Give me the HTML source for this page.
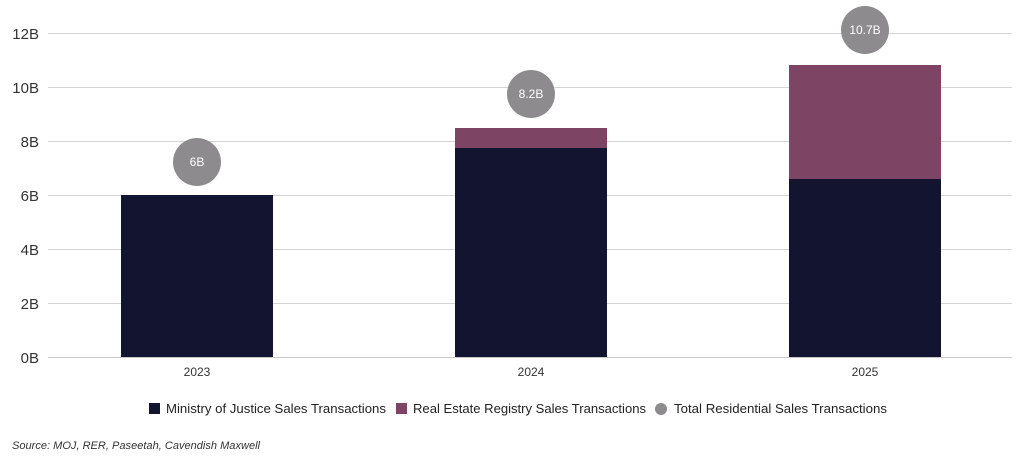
<!DOCTYPE html>
<html><head><meta charset="utf-8"><style>html,body{margin:0;padding:0;background:#fff}svg{display:block}</style></head>
<body>
<svg width="1024" height="460" xmlns="http://www.w3.org/2000/svg" font-family="Liberation Sans, sans-serif">
<g stroke="#d4d4d4" stroke-width="1">
<line x1="48" x2="1012" y1="33.5" y2="33.5"/>
<line x1="48" x2="1012" y1="87.5" y2="87.5"/>
<line x1="48" x2="1012" y1="141.5" y2="141.5"/>
<line x1="48" x2="1012" y1="195.5" y2="195.5"/>
<line x1="48" x2="1012" y1="249.5" y2="249.5"/>
<line x1="48" x2="1012" y1="303.5" y2="303.5"/>
</g>
<g font-size="15" fill="#333" text-anchor="end">
<text x="39" y="39">12B</text><text x="39" y="93">10B</text><text x="39" y="147">8B</text>
<text x="39" y="201">6B</text><text x="39" y="255">4B</text><text x="39" y="309">2B</text><text x="39" y="363">0B</text>
</g>
<rect x="121" y="195" width="152" height="162" fill="#131430"/>
<rect x="455" y="148" width="152" height="209" fill="#131430"/>
<rect x="455" y="128" width="152" height="20" fill="#7d4463"/>
<rect x="789" y="179" width="152" height="178" fill="#131430"/>
<rect x="789" y="65" width="152" height="114" fill="#7d4463"/>
<line x1="48" x2="1012" y1="357.5" y2="357.5" stroke="#c8c8c8"/>
<g fill="#8d8b8e"><circle cx="197" cy="162" r="24"/><circle cx="531" cy="94" r="24"/><circle cx="865" cy="30" r="24"/></g>
<g fill="#fff" font-size="12" text-anchor="middle">
<text x="197" y="166">6B</text><text x="531" y="98">8.2B</text><text x="865" y="34">10.7B</text></g>
<g fill="#333" font-size="12" text-anchor="middle">
<text x="197" y="376">2023</text><text x="531" y="376">2024</text><text x="865" y="376">2025</text></g>
<rect x="149" y="403" width="11" height="11" fill="#131430"/>
<text x="166" y="413" font-size="13" fill="#222" textLength="220" lengthAdjust="spacingAndGlyphs">Ministry of Justice Sales Transactions</text>
<rect x="396" y="403" width="11" height="11" fill="#7d4463"/>
<text x="413" y="413" font-size="13" fill="#222" textLength="233" lengthAdjust="spacingAndGlyphs">Real Estate Registry Sales Transactions</text>
<circle cx="661" cy="409" r="6" fill="#8d8b8e"/>
<text x="674" y="413" font-size="13" fill="#222" textLength="213" lengthAdjust="spacingAndGlyphs">Total Residential Sales Transactions</text>
<text x="12" y="449" font-size="11" font-style="italic" fill="#333" textLength="248" lengthAdjust="spacingAndGlyphs">Source: MOJ, RER, Paseetah, Cavendish Maxwell</text>
</svg>
</body></html>
